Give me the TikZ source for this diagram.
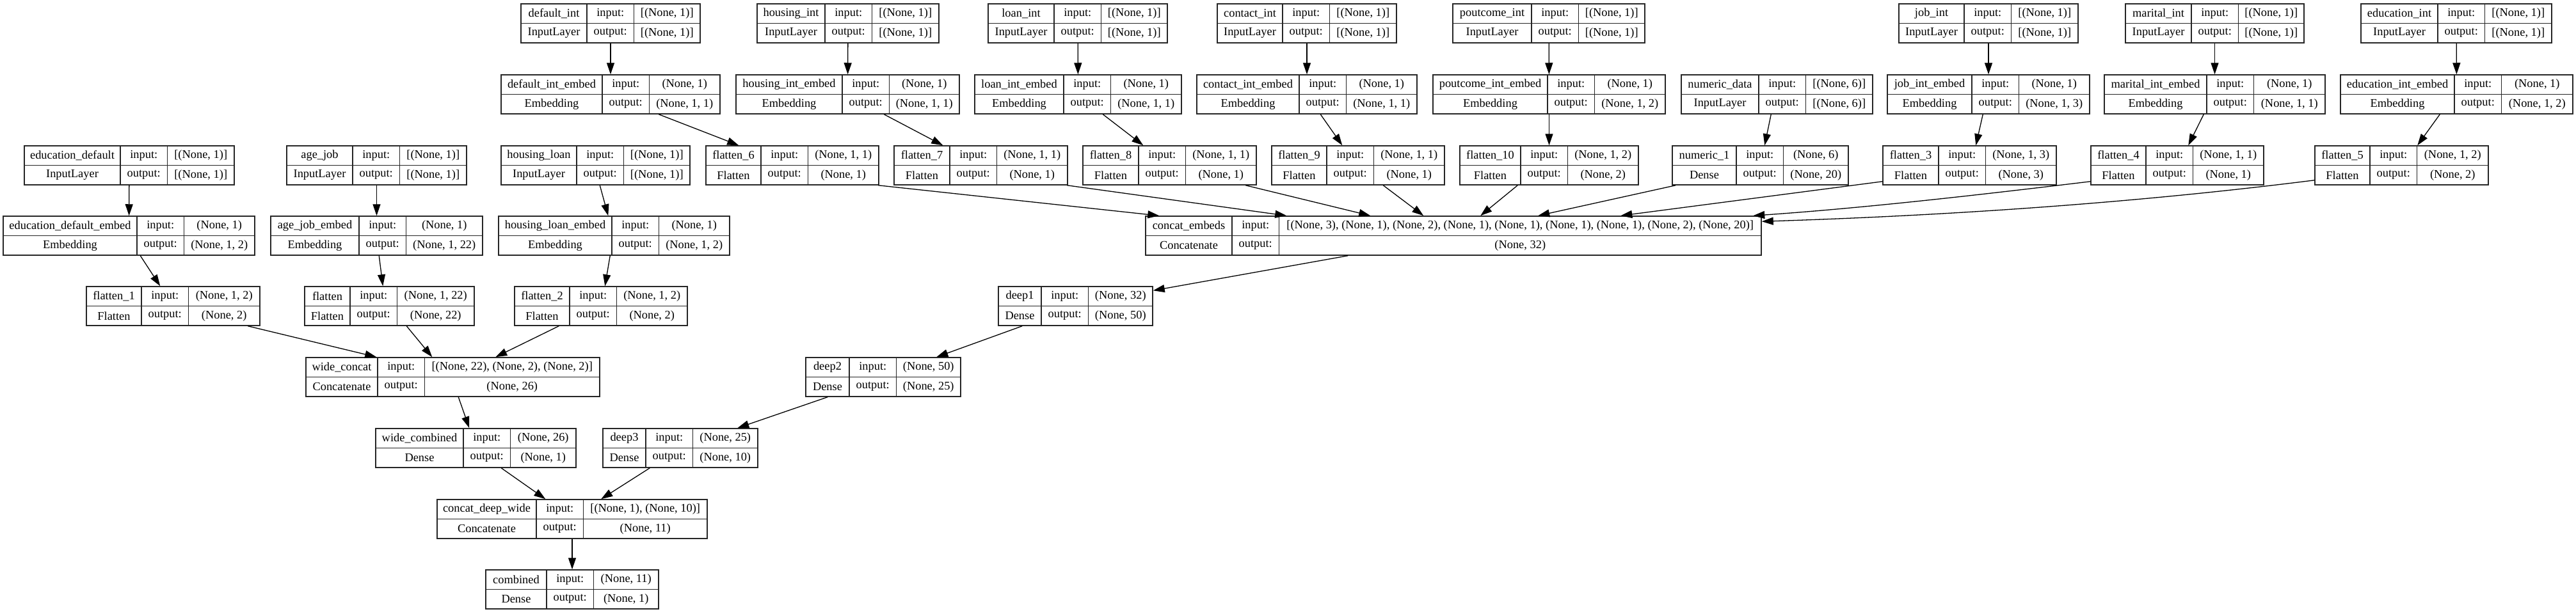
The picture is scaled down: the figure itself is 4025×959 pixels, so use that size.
\documentclass[tikz,border=0pt]{standalone}
\usepackage{fontspec}
\setmainfont{Liberation Serif}
\usepackage{tikz}
\usetikzlibrary{arrows.meta, calc, fit}

% one keras layer record: id, left, first divider, right, top, name, type, input, output
\newcommand{\layer}[9]{%
  \node[layerbox, fit={(#2,#5) (#4,#5+61)}] (#1) {};
  \draw[grid] (#2,#5+30.5) -- (#4,#5+30.5)
              (#3,#5) -- (#3,#5+61)
              (#3+73.5,#5) -- (#3+73.5,#5+61);
  \node[cell] (#1-name) at ({(#2+#3)/2},#5+15.25) {#6};
  \node[cell] (#1-type) at ({(#2+#3)/2},#5+45.75) {#7};
  \node[cell] (#1-il) at (#3+36.75,#5+15.25) {input:};
  \node[cell] (#1-ol) at (#3+36.75,#5+45.75) {output:};
  \node[cell] (#1-in) at ({(#3+73.5+#4)/2},#5+15.25) {#8};
  \node[cell] (#1-out) at ({(#3+73.5+#4)/2},#5+45.75) {#9};
}
% edge from a point on the bottom of one layer to a point on the top of another
\newcommand{\link}[4]{\draw[arrow] ($(#1.south west)+(#2,0)$) -- ($(#3.north west)+(#4,0)$);}

\begin{document}
\begin{tikzpicture}[
        x=0.5pt, y=-0.5pt,
        layerbox/.style={rectangle, draw=black!85, line width=0.75pt, inner sep=0pt},
        grid/.style={draw=black!85, line width=0.75pt},
        cell/.style={inner sep=0pt, font=\fontsize{9.2}{10}\selectfont},
        arrow/.style={-{Triangle[length=9pt, width=6pt]}, line width=0.65pt}
    ]
    \fill[white] (0,0) rectangle (4025,959);
    \useasboundingbox (0,0) rectangle (4025,959);

    % inputs
    \layer{default-int}{814}{917}{1094}{6}{default\_int}{InputLayer}{[(None, 1)]}{[(None, 1)]}
    \layer{housing-int}{1183}{1289}{1467}{6}{housing\_int}{InputLayer}{[(None, 1)]}{[(None, 1)]}
    \layer{loan-int}{1544}{1647}{1824}{6}{loan\_int}{InputLayer}{[(None, 1)]}{[(None, 1)]}
    \layer{contact-int}{1902}{2004}{2182}{6}{contact\_int}{InputLayer}{[(None, 1)]}{[(None, 1)]}
    \layer{poutcome-int}{2270}{2393}{2570}{6}{poutcome\_int}{InputLayer}{[(None, 1)]}{[(None, 1)]}
    \layer{job-int}{2967}{3069}{3247}{6}{job\_int}{InputLayer}{[(None, 1)]}{[(None, 1)]}
    \layer{marital-int}{3321}{3424}{3600}{6}{marital\_int}{InputLayer}{[(None, 1)]}{[(None, 1)]}
    \layer{education-int}{3689}{3809}{3987}{6}{education\_int}{InputLayer}{[(None, 1)]}{[(None, 1)]}

    % embeddings
    \layer{default-int-embed}{783}{941}{1125}{117}{default\_int\_embed}{Embedding}{(None, 1)}{(None, 1, 1)}
    \layer{housing-int-embed}{1150}{1316}{1499}{117}{housing\_int\_embed}{Embedding}{(None, 1)}{(None, 1, 1)}
    \layer{loan-int-embed}{1523}{1662}{1846}{117}{loan\_int\_embed}{Embedding}{(None, 1)}{(None, 1, 1)}
    \layer{contact-int-embed}{1870}{2030}{2214}{117}{contact\_int\_embed}{Embedding}{(None, 1)}{(None, 1, 1)}
    \layer{poutcome-int-embed}{2239}{2418}{2602}{117}{poutcome\_int\_embed}{Embedding}{(None, 1)}{(None, 1, 2)}
    \layer{numeric-data}{2627}{2748}{2926}{117}{numeric\_data}{InputLayer}{[(None, 6)]}{[(None, 6)]}
    \layer{job-int-embed}{2949}{3081}{3265}{117}{job\_int\_embed}{Embedding}{(None, 1)}{(None, 1, 3)}
    \layer{marital-int-embed}{3288}{3448}{3633}{117}{marital\_int\_embed}{Embedding}{(None, 1)}{(None, 1, 1)}
    \layer{education-int-embed}{3657}{3835}{4020}{117}{education\_int\_embed}{Embedding}{(None, 1)}{(None, 1, 2)}

    % flatten row
    \layer{education-default}{38}{188}{366}{228}{education\_default}{InputLayer}{[(None, 1)]}{[(None, 1)]}
    \layer{age-job}{448}{551}{729}{228}{age\_job}{InputLayer}{[(None, 1)]}{[(None, 1)]}
    \layer{housing-loan}{783}{901}{1078}{228}{housing\_loan}{InputLayer}{[(None, 1)]}{[(None, 1)]}
    \layer{flatten-6}{1103}{1189}{1373}{228}{flatten\_6}{Flatten}{(None, 1, 1)}{(None, 1)}
    \layer{flatten-7}{1397}{1484}{1668}{228}{flatten\_7}{Flatten}{(None, 1, 1)}{(None, 1)}
    \layer{flatten-8}{1692}{1779}{1963}{228}{flatten\_8}{Flatten}{(None, 1, 1)}{(None, 1)}
    \layer{flatten-9}{1987}{2073}{2257}{228}{flatten\_9}{Flatten}{(None, 1, 1)}{(None, 1)}
    \layer{flatten-10}{2281}{2376}{2560}{228}{flatten\_10}{Flatten}{(None, 1, 2)}{(None, 2)}
    \layer{numeric-1}{2613}{2713}{2888}{228}{numeric\_1}{Dense}{(None, 6)}{(None, 20)}
    \layer{flatten-3}{2942}{3029}{3213}{228}{flatten\_3}{Flatten}{(None, 1, 3)}{(None, 3)}
    \layer{flatten-4}{3267}{3353}{3537}{228}{flatten\_4}{Flatten}{(None, 1, 1)}{(None, 1)}
    \layer{flatten-5}{3617}{3703}{3888}{228}{flatten\_5}{Flatten}{(None, 1, 2)}{(None, 2)}

    % wide embeddings and deep concat
    \layer{education-default-embed}{5}{214}{398}{338}{education\_default\_embed}{Embedding}{(None, 1)}{(None, 1, 2)}
    \layer{age-job-embed}{423}{561}{754}{338}{age\_job\_embed}{Embedding}{(None, 1)}{(None, 1, 22)}
    \layer{housing-loan-embed}{779}{956}{1140}{338}{housing\_loan\_embed}{Embedding}{(None, 1)}{(None, 1, 2)}
    \layer{concat-embeds}{1790}{1925}{2752}{338}{concat\_embeds}{Concatenate}{[(None, 3), (None, 1), (None, 2), (None, 1), (None, 1), (None, 1), (None, 1), (None, 2), (None, 20)]}{(None, 32)}

    \layer{flatten-1}{135}{221}{406}{448}{flatten\_1}{Flatten}{(None, 1, 2)}{(None, 2)}
    \layer{flatten}{476}{547}{741}{448}{flatten}{Flatten}{(None, 1, 22)}{(None, 22)}
    \layer{flatten-2}{804}{890}{1074}{448}{flatten\_2}{Flatten}{(None, 1, 2)}{(None, 2)}
    \layer{deep1}{1560}{1627}{1801}{448}{deep1}{Dense}{(None, 32)}{(None, 50)}

    \layer{wide-concat}{478}{590}{937}{559}{wide\_concat}{Concatenate}{[(None, 22), (None, 2), (None, 2)]}{(None, 26)}
    \layer{deep2}{1259}{1327}{1501}{559}{deep2}{Dense}{(None, 50)}{(None, 25)}

    \layer{wide-combined}{587}{724}{900}{670}{wide\_combined}{Dense}{(None, 26)}{(None, 1)}
    \layer{deep3}{942}{1009}{1184}{670}{deep3}{Dense}{(None, 25)}{(None, 10)}

    \layer{concat-deep-wide}{683}{838}{1105}{781}{concat\_deep\_wide}{Concatenate}{[(None, 1), (None, 10)]}{(None, 11)}
    \layer{combined}{759}{854}{1029}{891}{combined}{Dense}{(None, 11)}{(None, 1)}

    % straight down
    \draw[arrow] (default-int) -- (default-int-embed);
    \draw[arrow] (housing-int) -- (housing-int-embed);
    \draw[arrow] (loan-int) -- (loan-int-embed);
    \draw[arrow] (contact-int) -- (contact-int-embed);
    \draw[arrow] (poutcome-int) -- (poutcome-int-embed);
    \draw[arrow] (job-int) -- (job-int-embed);
    \draw[arrow] (marital-int) -- (marital-int-embed);
    \draw[arrow] (education-int) -- (education-int-embed);
    \draw[arrow] (poutcome-int-embed) -- (flatten-10);
    \draw[arrow] (education-default) -- (education-default-embed);
    \draw[arrow] (age-job) -- (age-job-embed);
    \draw[arrow] (concat-deep-wide) -- (combined);

    % slanted
    \link{default-int-embed}{247}{flatten-6}{52}
    \link{housing-int-embed}{232}{flatten-7}{77}
    \link{loan-int-embed}{201}{flatten-8}{95}
    \link{contact-int-embed}{194}{flatten-9}{111}
    \link{numeric-data}{141}{numeric-1}{145}
    \link{job-int-embed}{150}{flatten-3}{146}
    \link{marital-int-embed}{156}{flatten-4}{153}
    \link{education-int-embed}{156}{flatten-5}{161}
    \link{housing-loan}{155}{housing-loan-embed}{172}
    \link{education-default-embed}{215}{flatten-1}{116}
    \link{age-job-embed}{170}{flatten}{123}
    \link{housing-loan-embed}{175}{flatten-2}{142}

    % into concat_embeds
    \link{flatten-6}{270}{concat-embeds}{22}
    \link{flatten-7}{271}{concat-embeds}{221}
    \link{flatten-8}{255}{concat-embeds}{352}
    \link{flatten-9}{175}{concat-embeds}{435}
    \link{flatten-10}{91}{concat-embeds}{524}
    \link{numeric-1}{6}{concat-embeds}{614}
    \draw[arrow] ($(flatten-3.south west)+(0,-6)$) -- ($(concat-embeds.north west)+(743,0)$);
    \draw[arrow] ($(flatten-4.south west)+(0,-6)$) .. controls (3090,305) and (2915,325) .. ($(concat-embeds.north west)+(950,0)$);
    \draw[arrow] ($(flatten-5.south west)+(0,-8)$) .. controls (3330,318) and (3040,337) .. ($(concat-embeds.north east)+(0,9)$);

    % deep branch
    \draw[arrow] ($(concat-embeds.south west)+(317,0)$) -- ($(deep1.north east)+(0,7)$);
    \link{deep1}{38}{deep2}{205}
    \link{deep2}{35}{deep3}{211}

    % wide branch
    \link{flatten-1}{253}{wide-concat}{111}
    \link{flatten}{160}{wide-concat}{198}
    \link{flatten-2}{70}{wide-concat}{297}
    \link{wide-concat}{239}{wide-combined}{147}
    \link{wide-combined}{197}{concat-deep-wide}{170}
    \link{deep3}{74}{concat-deep-wide}{257}
\end{tikzpicture}
\end{document}
